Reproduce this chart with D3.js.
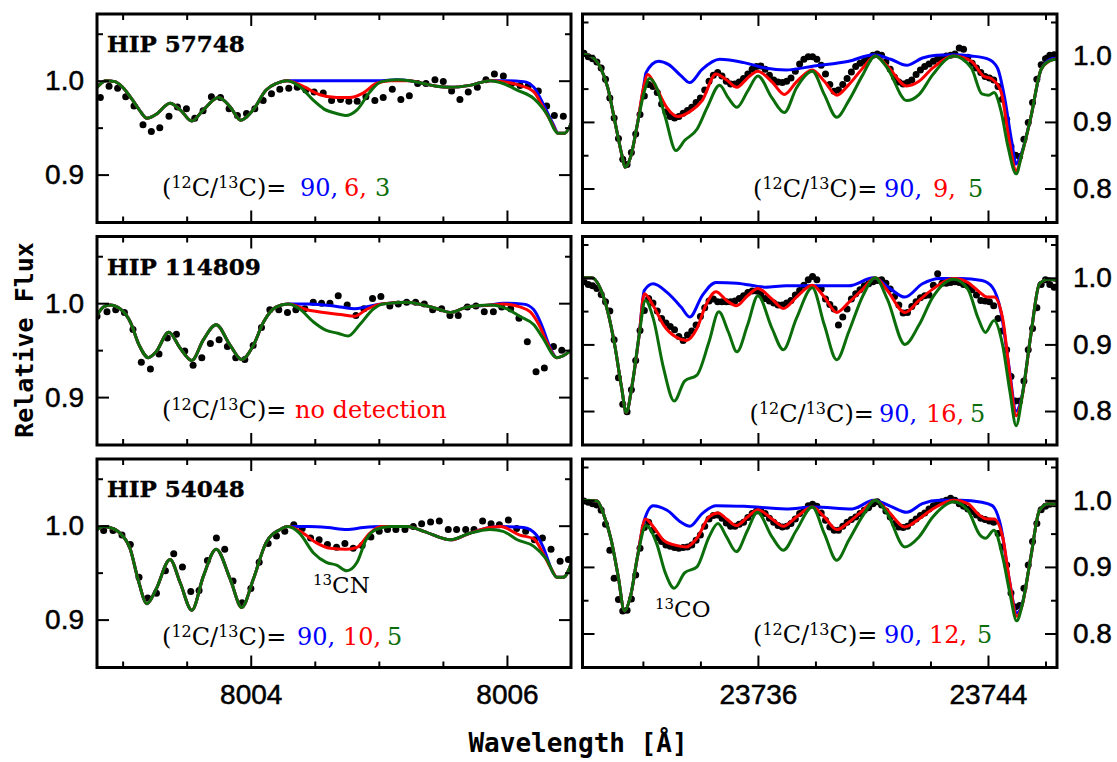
<!DOCTYPE html>
<html>
<head>
<meta charset="utf-8">
<script src="https://cdn.jsdelivr.net/npm/d3@7"></script>
<style>
  body { margin: 0; background: #fff; }
</style>
</head>
<body>
<svg id="chart"></svg>
<script>
// ---------- data ----------
const starNames = ['HIP 57748', 'HIP 114809', 'HIP 54048'];

// tick values
const cnMajorTicks = [8004, 8006];
const cnMinorTicks = [8003, 8003.5, 8004.5, 8005, 8005.5];
const coMajorTicks = [23736, 23744];
const coMinorTicks = [23732, 23734, 23738, 23740, 23742, 23746];
const cnFluxMajor = [0.9, 1.0];
const cnFluxMinor = [0.95, 1.05];
const coFluxMajor = [0.8, 0.9, 1.0];
const coFluxMinor = [0.85, 0.95, 1.05];

// 12C/13C values quoted in each panel (models drawn blue, red, green)
const cnRatios = [['90,', '6,', '3'], ['no detection'], ['90,', '10,', '5']];
const coRatios = [['90,', '9,', '5'], ['90,', '16,', '5'], ['90,', '12,', '5']];

// ---- CN region, 8003-8006 A: observed spectra [wavelength, flux] ----
const cn57748Obs = [[8002.826,0.982],[8002.894,0.994],[8002.961,0.992],[8003.024,0.983],[8003.089,0.973],[8003.159,0.953],[8003.224,0.946],[8003.290,0.950],[8003.362,0.962],[8003.428,0.972],[8003.498,0.970],[8003.563,0.960],[8003.628,0.968],[8003.693,0.983],[8003.764,0.982],[8003.831,0.970],[8003.896,0.963],[8003.967,0.965],[8004.032,0.970],[8004.097,0.979],[8004.162,0.986],[8004.227,0.991],[8004.297,0.992],[8004.363,0.993],[8004.430,0.990],[8004.495,0.988],[8004.566,0.987],[8004.631,0.979],[8004.701,0.980],[8004.766,0.978],[8004.831,0.978],[8004.899,0.983],[8004.969,0.979],[8005.034,0.982],[8005.105,0.991],[8005.172,0.980],[8005.238,0.984],[8005.303,0.997],[8005.368,0.997],[8005.438,1.001],[8005.503,0.999],[8005.568,0.989],[8005.633,0.980],[8005.698,0.988],[8005.769,0.993],[8005.836,1.001],[8005.902,1.007],[8005.972,1.005],[8006.037,0.997],[8006.102,0.995],[8006.167,0.995],[8006.245,0.989],[8006.310,0.973],[8006.370,0.963],[8006.440,0.962]];
const cn114809Obs = [[8002.800,0.986],[8002.878,0.991],[8002.946,0.993],[8003.014,0.990],[8003.081,0.972],[8003.146,0.937],[8003.217,0.930],[8003.284,0.946],[8003.349,0.963],[8003.420,0.967],[8003.485,0.949],[8003.550,0.934],[8003.618,0.942],[8003.685,0.957],[8003.753,0.961],[8003.818,0.954],[8003.883,0.942],[8003.954,0.940],[8004.019,0.955],[8004.084,0.974],[8004.149,0.993],[8004.219,0.993],[8004.287,0.990],[8004.352,0.993],[8004.422,0.994],[8004.488,1.001],[8004.553,1.000],[8004.618,1.000],[8004.683,1.008],[8004.753,0.998],[8004.821,0.987],[8004.883,0.994],[8004.951,1.005],[8005.016,1.007],[8005.086,0.997],[8005.152,0.999],[8005.217,1.001],[8005.287,1.001],[8005.355,0.999],[8005.420,0.993],[8005.490,0.994],[8005.555,0.987],[8005.620,0.987],[8005.691,0.996],[8005.758,0.997],[8005.823,0.991],[8005.894,0.991],[8005.959,0.996],[8006.029,0.994],[8006.094,0.984],[8006.159,0.959],[8006.227,0.927],[8006.292,0.931],[8006.363,0.954],[8006.428,0.950]];
const cn54048Obs = [[8002.852,0.995],[8002.925,0.995],[8002.995,0.990],[8003.060,0.980],[8003.128,0.945],[8003.196,0.923],[8003.264,0.928],[8003.334,0.952],[8003.399,0.970],[8003.467,0.956],[8003.532,0.930],[8003.597,0.931],[8003.662,0.963],[8003.732,0.987],[8003.797,0.975],[8003.862,0.941],[8003.933,0.918],[8004.001,0.933],[8004.066,0.961],[8004.136,0.981],[8004.201,0.989],[8004.266,0.994],[8004.336,1.001],[8004.402,0.997],[8004.467,0.987],[8004.534,0.985],[8004.599,0.980],[8004.670,0.977],[8004.735,0.981],[8004.800,0.976],[8004.870,0.979],[8004.938,0.988],[8005.003,0.994],[8005.068,0.996],[8005.133,0.996],[8005.204,0.996],[8005.269,0.999],[8005.334,1.002],[8005.404,1.004],[8005.472,1.005],[8005.542,0.996],[8005.607,0.996],[8005.678,0.996],[8005.743,0.996],[8005.810,1.005],[8005.876,1.002],[8005.941,1.001],[8006.011,1.006],[8006.076,0.997],[8006.146,0.994],[8006.214,0.985],[8006.277,0.987],[8006.344,0.975],[8006.415,0.962],[8006.480,0.964]];

// ---- CN region: synthetic spectra ----
const cn57748Model3 = [[8002.80,0.993],[8002.87,1.000],[8002.94,0.999],[8003.00,0.993],[8003.08,0.979],[8003.13,0.969],[8003.19,0.960],[8003.26,0.964],[8003.37,0.976],[8003.45,0.969],[8003.54,0.957],[8003.63,0.969],[8003.75,0.982],[8003.84,0.972],[8003.92,0.958],[8004.02,0.969],[8004.12,0.990],[8004.20,0.997],[8004.28,1.000],[8004.38,0.994],[8004.49,0.979],[8004.57,0.970],[8004.67,0.965],[8004.74,0.963],[8004.83,0.969],[8004.93,0.988],[8005.02,0.999],[8005.14,1.001],[8005.24,1.000],[8005.35,0.997],[8005.45,0.994],[8005.56,0.993],[8005.71,0.995],[8005.87,1.000],[8005.97,0.997],[8006.08,0.990],[8006.21,0.981],[8006.31,0.965],[8006.40,0.944],[8006.45,0.944],[8006.50,0.954]];
const cn57748Model6 = [[8002.80,0.993],[8002.87,1.000],[8002.94,0.999],[8003.00,0.993],[8003.08,0.979],[8003.13,0.969],[8003.19,0.960],[8003.26,0.964],[8003.37,0.976],[8003.45,0.969],[8003.54,0.957],[8003.63,0.969],[8003.75,0.982],[8003.84,0.972],[8003.92,0.958],[8004.02,0.969],[8004.12,0.990],[8004.20,0.997],[8004.28,1.000],[8004.41,0.994],[8004.54,0.985],[8004.67,0.982],[8004.77,0.982],[8004.88,0.987],[8004.98,0.997],[8005.09,1.000],[8005.24,1.000],[8005.35,0.997],[8005.45,0.994],[8005.56,0.993],[8005.71,0.995],[8005.87,1.000],[8005.97,0.999],[8006.10,0.995],[8006.21,0.988],[8006.28,0.972],[8006.35,0.955],[8006.40,0.944],[8006.45,0.944],[8006.50,0.954]];
const cn57748Model90 = [[8002.80,0.993],[8002.87,1.000],[8002.94,0.999],[8003.00,0.993],[8003.08,0.979],[8003.13,0.969],[8003.19,0.960],[8003.26,0.964],[8003.37,0.976],[8003.45,0.969],[8003.54,0.957],[8003.63,0.969],[8003.75,0.982],[8003.84,0.972],[8003.92,0.958],[8004.02,0.969],[8004.12,0.990],[8004.20,0.997],[8004.28,1.000],[8004.45,1.000],[8004.65,1.000],[8004.85,1.000],[8005.02,1.000],[8005.14,1.001],[8005.24,1.000],[8005.35,0.997],[8005.45,0.994],[8005.56,0.993],[8005.71,0.995],[8005.87,1.000],[8005.97,1.000],[8006.13,0.999],[8006.21,0.993],[8006.28,0.976],[8006.36,0.954],[8006.40,0.944],[8006.45,0.944],[8006.50,0.954]];

const cn114809Model5 = [[8002.80,0.987],[8002.85,0.996],[8002.90,0.998],[8002.98,0.994],[8003.06,0.980],[8003.13,0.955],[8003.20,0.942],[8003.26,0.948],[8003.36,0.969],[8003.45,0.952],[8003.54,0.939],[8003.63,0.961],[8003.73,0.977],[8003.84,0.955],[8003.93,0.940],[8004.02,0.955],[8004.10,0.980],[8004.20,0.996],[8004.29,0.999],[8004.38,0.994],[8004.49,0.980],[8004.59,0.971],[8004.68,0.968],[8004.76,0.965],[8004.85,0.977],[8004.96,0.994],[8005.03,0.999],[8005.22,1.001],[8005.35,0.998],[8005.48,0.993],[8005.56,0.990],[8005.69,0.996],[8005.87,0.998],[8006.00,0.994],[8006.10,0.986],[8006.21,0.977],[8006.28,0.963],[8006.39,0.942],[8006.44,0.944],[8006.50,0.950]];
const cn114809Model16 = [[8002.80,0.987],[8002.85,0.996],[8002.90,0.998],[8002.98,0.994],[8003.06,0.980],[8003.13,0.955],[8003.20,0.942],[8003.26,0.948],[8003.36,0.969],[8003.45,0.952],[8003.54,0.939],[8003.63,0.961],[8003.73,0.977],[8003.84,0.955],[8003.93,0.940],[8004.02,0.955],[8004.10,0.980],[8004.20,0.996],[8004.29,0.999],[8004.44,0.993],[8004.57,0.990],[8004.70,0.988],[8004.81,0.986],[8004.90,0.993],[8005.01,0.999],[8005.22,1.001],[8005.35,0.998],[8005.48,0.993],[8005.56,0.990],[8005.69,0.996],[8005.87,0.998],[8005.97,0.999],[8006.10,0.996],[8006.18,0.991],[8006.25,0.977],[8006.31,0.959],[8006.39,0.942],[8006.44,0.944],[8006.50,0.950]];
const cn114809Model90 = [[8002.80,0.987],[8002.85,0.996],[8002.90,0.998],[8002.98,0.994],[8003.06,0.980],[8003.13,0.955],[8003.20,0.942],[8003.26,0.948],[8003.36,0.969],[8003.45,0.952],[8003.54,0.939],[8003.63,0.961],[8003.73,0.977],[8003.84,0.955],[8003.93,0.940],[8004.02,0.955],[8004.10,0.980],[8004.20,0.996],[8004.29,0.999],[8004.44,0.999],[8004.57,0.998],[8004.70,0.996],[8004.81,0.994],[8004.90,0.996],[8005.01,0.999],[8005.22,1.001],[8005.35,0.998],[8005.48,0.993],[8005.56,0.990],[8005.69,0.996],[8005.87,0.998],[8005.97,1.000],[8006.13,0.999],[8006.21,0.993],[8006.27,0.977],[8006.33,0.955],[8006.39,0.942],[8006.44,0.944],[8006.50,0.950]];

const cn54048Model5 = [[8002.80,0.996],[8002.85,0.999],[8002.90,0.998],[8002.98,0.992],[8003.06,0.975],[8003.12,0.943],[8003.19,0.917],[8003.26,0.932],[8003.37,0.964],[8003.45,0.939],[8003.54,0.910],[8003.63,0.946],[8003.73,0.975],[8003.84,0.943],[8003.93,0.913],[8004.02,0.943],[8004.12,0.982],[8004.23,0.996],[8004.29,0.999],[8004.38,0.992],[8004.49,0.971],[8004.59,0.961],[8004.67,0.958],[8004.75,0.952],[8004.83,0.961],[8004.90,0.985],[8004.98,0.996],[8005.09,0.999],[8005.22,0.999],[8005.35,0.994],[8005.56,0.985],[8005.71,0.992],[8005.87,0.996],[8005.97,0.994],[8006.08,0.985],[8006.21,0.978],[8006.31,0.964],[8006.39,0.945],[8006.44,0.945],[8006.50,0.959]];
const cn54048Model10 = [[8002.80,0.996],[8002.85,0.999],[8002.90,0.998],[8002.98,0.992],[8003.06,0.975],[8003.12,0.943],[8003.19,0.917],[8003.26,0.932],[8003.37,0.964],[8003.45,0.939],[8003.54,0.910],[8003.63,0.946],[8003.73,0.975],[8003.84,0.943],[8003.93,0.913],[8004.02,0.943],[8004.12,0.982],[8004.23,0.996],[8004.29,0.999],[8004.41,0.992],[8004.51,0.982],[8004.62,0.976],[8004.75,0.975],[8004.83,0.977],[8004.93,0.992],[8005.02,0.999],[8005.09,0.999],[8005.22,0.999],[8005.35,0.994],[8005.56,0.985],[8005.71,0.992],[8005.87,0.998],[8005.95,0.999],[8006.10,0.990],[8006.21,0.986],[8006.28,0.971],[8006.35,0.953],[8006.39,0.945],[8006.44,0.945],[8006.50,0.959]];
const cn54048Model90 = [[8002.80,0.996],[8002.85,0.999],[8002.90,0.998],[8002.98,0.992],[8003.06,0.975],[8003.12,0.943],[8003.19,0.917],[8003.26,0.932],[8003.37,0.964],[8003.45,0.939],[8003.54,0.910],[8003.63,0.946],[8003.73,0.975],[8003.84,0.943],[8003.93,0.913],[8004.02,0.943],[8004.12,0.982],[8004.23,0.996],[8004.29,0.999],[8004.45,0.999],[8004.60,0.998],[8004.75,0.996],[8004.88,0.998],[8005.02,0.999],[8005.09,0.999],[8005.22,0.999],[8005.35,0.994],[8005.56,0.985],[8005.71,0.992],[8005.87,0.998],[8005.95,0.999],[8006.13,0.998],[8006.23,0.990],[8006.28,0.978],[8006.36,0.950],[8006.39,0.945],[8006.44,0.945],[8006.50,0.959]];

// ---- CO region, 23730-23746 A: observed spectra on a common wavelength grid ----
const coWave = [23729.95,23730.10,23730.25,23730.40,23730.55,23730.70,23730.85,23731.00,23731.15,23731.30,
  23731.45,23731.60,23731.75,23731.90,23732.05,23732.20,23732.35,23732.50,23732.65,23732.80,
  23732.95,23733.10,23733.25,23733.40,23733.55,23733.70,23733.85,23734.00,23734.15,23734.30,
  23734.45,23734.60,23734.75,23734.90,23735.05,23735.20,23735.35,23735.50,23735.65,23735.80,
  23735.95,23736.10,23736.25,23736.40,23736.55,23736.70,23736.85,23737.00,23737.15,23737.30,
  23737.45,23737.60,23737.75,23737.90,23738.05,23738.20,23738.35,23738.50,23738.65,23738.80,
  23738.95,23739.10,23739.25,23739.40,23739.55,23739.70,23739.85,23740.00,23740.15,23740.30,
  23740.45,23740.60,23740.75,23740.90,23741.05,23741.20,23741.35,23741.50,23741.65,23741.80,
  23741.95,23742.10,23742.25,23742.40,23742.55,23742.70,23742.85,23743.00,23743.15,23743.30,
  23743.45,23743.60,23743.75,23743.90,23744.05,23744.20,23744.35,23744.50,23744.65,23744.80,
  23744.95,23745.10,23745.25,23745.40,23745.55,23745.70,23745.85,23746.00,23746.15,23746.30];
const co57748Flux = [1.003,0.998,0.995,0.990,0.981,0.964,0.936,0.906,0.875,0.844,
  0.836,0.854,0.882,0.911,0.939,0.956,0.953,0.944,0.927,0.915,
  0.908,0.906,0.908,0.913,0.917,0.922,0.929,0.936,0.948,0.961,
  0.970,0.974,0.969,0.961,0.957,0.957,0.960,0.965,0.972,0.979,
  0.983,0.984,0.979,0.970,0.963,0.960,0.959,0.961,0.966,0.976,
  0.987,0.994,0.998,0.998,0.994,0.985,0.972,0.956,0.946,0.948,
  0.956,0.965,0.975,0.983,0.988,0.991,0.995,1.000,1.002,1.000,
  0.990,0.979,0.967,0.960,0.957,0.959,0.963,0.971,0.978,0.983,
  0.987,0.991,0.995,0.997,0.999,1.000,1.002,1.011,1.009,0.997,
  0.988,0.981,0.974,0.968,0.966,0.963,0.953,0.934,0.904,0.863,
  0.850,0.848,0.874,0.899,0.929,0.964,0.986,0.995,1.000,1.001];
const co114809Flux = [0.994,0.990,0.988,0.984,0.975,0.964,0.950,0.907,0.850,0.810,
  0.799,0.832,0.876,0.921,0.951,0.969,0.962,0.950,0.939,0.932,
  0.927,0.922,0.912,0.906,0.914,0.920,0.929,0.942,0.955,0.965,
  0.968,0.964,0.964,0.964,0.964,0.965,0.969,0.973,0.978,0.980,
  0.980,0.975,0.969,0.965,0.962,0.959,0.959,0.962,0.966,0.974,
  0.981,0.989,0.997,1.002,0.997,0.983,0.968,0.960,0.953,0.929,
  0.941,0.953,0.968,0.976,0.982,0.988,0.991,0.994,0.996,0.997,
  0.992,0.983,0.972,0.959,0.947,0.948,0.957,0.964,0.970,0.973,
  0.974,0.989,1.006,0.992,0.992,0.993,0.994,0.993,0.990,0.988,
  0.982,0.974,0.966,0.965,0.964,0.958,0.939,0.920,0.892,0.852,
  0.815,0.815,0.845,0.892,0.924,0.955,0.990,0.997,0.990,0.986];
const co54048Flux = [0.999,0.997,0.995,0.993,0.985,0.964,0.925,0.883,0.851,0.834,
  0.835,0.852,0.888,0.928,0.959,0.967,0.955,0.944,0.938,0.933,
  0.931,0.929,0.928,0.929,0.930,0.933,0.940,0.948,0.961,0.972,
  0.977,0.978,0.973,0.966,0.961,0.961,0.964,0.967,0.974,0.980,
  0.984,0.984,0.980,0.973,0.967,0.962,0.960,0.961,0.965,0.972,
  0.980,0.986,0.992,0.994,0.991,0.981,0.970,0.960,0.955,0.955,
  0.961,0.967,0.971,0.975,0.980,0.985,0.989,0.995,0.998,0.993,
  0.984,0.975,0.965,0.960,0.959,0.961,0.967,0.972,0.977,0.981,
  0.987,0.992,0.996,0.998,1.000,1.003,1.000,0.995,0.991,0.987,
  0.983,0.978,0.973,0.971,0.969,0.967,0.950,0.930,0.903,0.861,
  0.840,0.842,0.868,0.903,0.938,0.965,0.986,0.991,0.994,0.995];

// ---- CO region: synthetic spectra ----
const co57748Model5 = [[23729.90,1.002],[23730.17,0.999],[23730.53,0.981],[23730.78,0.951],[23731.02,0.902],[23731.26,0.852],[23731.38,0.832],[23731.57,0.847],[23731.81,0.897],[23732.05,0.946],[23732.23,0.965],[23732.48,0.951],[23732.78,0.907],[23733.15,0.857],[23733.45,0.872],[23733.88,0.889],[23734.24,0.922],[23734.67,0.955],[23734.97,0.936],[23735.27,0.922],[23735.64,0.946],[23736.00,0.969],[23736.49,0.936],[23736.92,0.914],[23737.34,0.951],[23737.89,0.976],[23738.31,0.941],[23738.74,0.907],[23739.16,0.932],[23739.65,0.971],[23740.08,0.999],[23740.50,0.981],[23741.17,0.932],[23741.60,0.941],[23742.08,0.971],[23742.81,0.999],[23743.42,0.981],[23743.79,0.942],[23744.03,0.940],[23744.21,0.944],[23744.45,0.917],[23744.70,0.862],[23744.98,0.822],[23745.18,0.852],[23745.49,0.907],[23745.85,0.979],[23746.16,0.992],[23746.40,0.994]];
const co57748Model9 = [[23729.90,1.002],[23730.17,0.999],[23730.53,0.981],[23730.78,0.951],[23731.02,0.902],[23731.26,0.852],[23731.38,0.832],[23731.57,0.847],[23731.81,0.897],[23732.02,0.951],[23732.17,0.971],[23732.48,0.950],[23732.84,0.921],[23733.21,0.908],[23733.69,0.917],[23734.06,0.932],[23734.54,0.972],[23734.91,0.963],[23735.27,0.952],[23735.64,0.966],[23736.00,0.976],[23736.49,0.960],[23736.92,0.941],[23737.34,0.960],[23737.89,0.978],[23738.31,0.961],[23738.74,0.940],[23739.16,0.956],[23739.65,0.981],[23740.08,0.999],[23740.50,0.984],[23741.17,0.954],[23741.60,0.961],[23742.08,0.981],[23742.81,0.999],[23743.42,0.991],[23743.84,0.969],[23744.15,0.964],[23744.45,0.946],[23744.74,0.872],[23744.98,0.827],[23745.18,0.852],[23745.49,0.907],[23745.85,0.979],[23746.16,0.992],[23746.40,0.995]];
const co57748Model90 = [[23729.90,1.002],[23730.17,0.999],[23730.53,0.981],[23730.78,0.951],[23731.02,0.902],[23731.26,0.852],[23731.38,0.832],[23731.57,0.847],[23731.81,0.897],[23732.02,0.951],[23732.11,0.974],[23732.54,0.991],[23732.90,0.986],[23733.33,0.969],[23733.63,0.959],[23734.06,0.979],[23734.67,0.994],[23735.52,0.989],[23736.25,0.981],[23736.98,0.978],[23737.95,0.984],[23739.16,0.991],[23740.02,1.001],[23740.62,0.994],[23741.17,0.985],[23741.72,0.996],[23742.20,1.000],[23742.81,1.001],[23743.42,0.999],[23744.03,0.994],[23744.33,0.981],[23744.58,0.936],[23744.82,0.872],[23744.98,0.837],[23745.18,0.855],[23745.49,0.907],[23745.85,0.979],[23746.16,0.994],[23746.40,0.997]];

const co114809Model5 = [[23729.90,1.000],[23730.23,1.000],[23730.53,0.983],[23730.78,0.949],[23731.02,0.899],[23731.26,0.835],[23731.42,0.798],[23731.63,0.840],[23731.87,0.914],[23732.09,0.966],[23732.36,0.939],[23732.72,0.864],[23733.09,0.815],[23733.45,0.845],[23733.88,0.854],[23734.30,0.904],[23734.64,0.949],[23734.97,0.919],[23735.27,0.889],[23735.64,0.929],[23736.00,0.973],[23736.49,0.924],[23736.88,0.892],[23737.34,0.939],[23737.89,0.985],[23738.31,0.929],[23738.74,0.877],[23739.16,0.919],[23739.65,0.973],[23740.08,1.000],[23740.50,0.968],[23741.11,0.900],[23741.60,0.929],[23742.08,0.971],[23742.81,0.998],[23743.30,0.983],[23743.66,0.939],[23743.91,0.918],[23744.21,0.936],[23744.51,0.899],[23744.76,0.830],[23744.98,0.778],[23745.18,0.820],[23745.49,0.914],[23745.79,0.991],[23746.10,0.998],[23746.40,0.996]];
const co114809Model16 = [[23729.90,1.000],[23730.23,1.000],[23730.53,0.983],[23730.78,0.949],[23731.02,0.899],[23731.26,0.835],[23731.42,0.798],[23731.63,0.840],[23731.87,0.914],[23732.05,0.976],[23732.36,0.958],[23732.72,0.929],[23733.15,0.911],[23733.51,0.906],[23733.88,0.924],[23734.18,0.958],[23734.54,0.979],[23734.91,0.966],[23735.25,0.958],[23735.64,0.973],[23736.00,0.984],[23736.49,0.968],[23736.88,0.954],[23737.34,0.971],[23737.89,0.989],[23738.31,0.971],[23738.74,0.948],[23739.16,0.963],[23739.65,0.983],[23740.08,1.000],[23740.50,0.981],[23741.11,0.948],[23741.60,0.966],[23742.08,0.983],[23742.81,0.999],[23743.30,0.993],[23743.72,0.978],[23743.97,0.971],[23744.21,0.971],[23744.51,0.939],[23744.76,0.854],[23744.98,0.793],[23745.18,0.820],[23745.49,0.914],[23745.79,0.991],[23746.10,0.998],[23746.40,0.996]];
const co114809Model90 = [[23729.90,1.000],[23730.23,1.000],[23730.53,0.983],[23730.78,0.949],[23731.02,0.899],[23731.26,0.835],[23731.42,0.798],[23731.63,0.840],[23731.87,0.914],[23732.05,0.981],[23732.36,0.991],[23732.84,0.978],[23733.33,0.956],[23733.63,0.941],[23734.06,0.973],[23734.54,0.993],[23735.27,0.992],[23736.25,0.986],[23736.98,0.988],[23737.95,0.988],[23739.16,0.988],[23740.02,1.000],[23740.62,0.983],[23741.11,0.971],[23741.72,0.991],[23742.32,0.999],[23743.05,0.999],[23743.79,0.996],[23744.15,0.986],[23744.45,0.949],[23744.74,0.864],[23744.98,0.800],[23745.18,0.822],[23745.49,0.914],[23745.79,0.991],[23746.10,0.998],[23746.40,0.996]];

const co54048Model5 = [[23729.90,1.000],[23730.41,0.999],[23730.65,0.977],[23730.90,0.940],[23731.14,0.886],[23731.36,0.834],[23731.57,0.856],[23731.81,0.915],[23732.11,0.962],[23732.48,0.935],[23732.78,0.891],[23733.09,0.868],[23733.45,0.891],[23733.88,0.900],[23734.30,0.945],[23734.61,0.965],[23734.91,0.945],[23735.25,0.923],[23735.64,0.955],[23735.98,0.982],[23736.49,0.945],[23736.88,0.925],[23737.34,0.955],[23737.89,0.990],[23738.31,0.950],[23738.74,0.910],[23739.16,0.940],[23739.65,0.977],[23740.08,1.000],[23740.50,0.980],[23741.11,0.930],[23741.60,0.945],[23742.08,0.975],[23742.81,0.998],[23743.30,0.985],[23743.72,0.948],[23743.91,0.943],[23744.21,0.955],[23744.51,0.915],[23744.76,0.861],[23745.00,0.819],[23745.18,0.841],[23745.49,0.915],[23745.79,0.985],[23746.10,0.995],[23746.40,0.994]];
const co54048Model12 = [[23729.90,1.000],[23730.41,0.999],[23730.65,0.977],[23730.90,0.940],[23731.14,0.886],[23731.36,0.834],[23731.57,0.856],[23731.81,0.915],[23732.09,0.972],[23732.42,0.957],[23732.72,0.940],[23733.09,0.933],[23733.51,0.930],[23733.88,0.943],[23734.30,0.975],[23734.61,0.981],[23734.91,0.972],[23735.25,0.962],[23735.64,0.975],[23736.00,0.986],[23736.49,0.972],[23736.88,0.961],[23737.34,0.975],[23737.89,0.990],[23738.31,0.975],[23738.74,0.956],[23739.16,0.967],[23739.65,0.985],[23740.08,1.000],[23740.50,0.985],[23741.11,0.960],[23741.60,0.972],[23742.08,0.987],[23742.81,1.000],[23743.30,0.995],[23743.72,0.977],[23743.97,0.972],[23744.21,0.972],[23744.51,0.945],[23744.76,0.876],[23745.00,0.826],[23745.18,0.841],[23745.49,0.915],[23745.79,0.985],[23746.10,0.995],[23746.40,0.994]];
const co54048Model90 = [[23729.90,1.000],[23730.41,0.999],[23730.65,0.977],[23730.90,0.940],[23731.14,0.886],[23731.36,0.834],[23731.57,0.856],[23731.81,0.915],[23732.05,0.970],[23732.36,0.992],[23732.84,0.985],[23733.33,0.967],[23733.63,0.961],[23734.06,0.980],[23734.54,0.992],[23735.52,0.991],[23736.98,0.987],[23737.95,0.990],[23739.28,0.987],[23740.02,1.000],[23740.62,0.991],[23741.17,0.982],[23741.72,0.995],[23742.32,1.000],[23743.05,1.000],[23743.79,0.997],[23744.15,0.992],[23744.45,0.960],[23744.74,0.881],[23745.00,0.831],[23745.18,0.843],[23745.49,0.915],[23745.79,0.985],[23746.10,0.995],[23746.40,0.994]];

// ---------- layout ----------
const W = 1117, H = 762;
const colX = [[97, 571], [582.5, 1057]];
const rowTop = [14, 236.5, 459];
const rowH = 208.5;
const cnDomain = [8002.8, 8006.5], coDomain = [23729.9, 23746.4];
const cnFluxDomain = [0.849, 1.071], coFluxDomain = [0.749, 1.062];
const modelColors = ['#0000ff', '#ff0000', '#0b6e0b'];

// where the coloured ratio values sit (x) and the text baseline (relative to panel top)
const cnLabelPos = [{x0: 162, xs: [300, 344, 375], dy: 182},
                    {x0: 162, xs: [295], dy: 181.5},
                    {x0: 162, xs: [297, 343, 387], dy: 186}];
const coLabelPos = [{x0: 753, xs: [884, 933, 968], dy: 183},
                    {x0: 749.5, xs: [879, 926, 970], dy: 185},
                    {x0: 753, xs: [884, 929, 977], dy: 184}];

const cnObs = [cn57748Obs, cn114809Obs, cn54048Obs];
const cnModels = [[cn57748Model90, cn57748Model6, cn57748Model3],
                  [cn114809Model90, cn114809Model16, cn114809Model5],
                  [cn54048Model90, cn54048Model10, cn54048Model5]];
const coFlux = [co57748Flux, co114809Flux, co54048Flux];
const coModels = [[co57748Model90, co57748Model9, co57748Model5],
                  [co114809Model90, co114809Model16, co114809Model5],
                  [co54048Model90, co54048Model12, co54048Model5]];

const svg = d3.select('#chart').attr('width', W).attr('height', H);
svg.append('rect').attr('width', W).attr('height', H).attr('fill', '#fff');
const defs = svg.append('defs');

const tickFont = 'Liberation Sans, Arial, sans-serif';
const serif = 'DejaVu Serif, serif';

function addAxis(g, axisFn, scale, values, size, transform, fmt, pad) {
  const ax = axisFn(scale).tickValues(values).tickSize(-size)
    .tickPadding(pad || 0).tickFormat(fmt || (() => ''));
  const sel = g.append('g').attr('transform', transform).call(ax);
  sel.select('.domain').remove();
  sel.selectAll('line').attr('stroke', '#000').attr('stroke-width', 2);
  sel.attr('font-family', tickFont).attr('font-size', 28);
  sel.selectAll('text').attr('fill', '#000').attr('stroke', '#000').attr('stroke-width', 0.5);
  return sel;
}

function drawPanel(p) {
  const [x0, x1] = colX[p.col];
  const top = rowTop[p.row], bottom = top + rowH;
  const x = d3.scaleLinear().domain(p.xDomain).range([x0, x1]);
  const y = d3.scaleLinear().domain(p.yDomain).range([bottom, top]);
  const g = svg.append('g');

  const clipId = 'clip-' + p.row + '-' + p.col;
  defs.append('clipPath').attr('id', clipId).append('rect')
    .attr('x', x0).attr('y', top).attr('width', x1 - x0).attr('height', rowH);
  const plot = g.append('g').attr('clip-path', 'url(#' + clipId + ')');

  plot.selectAll('circle').data(p.obs).join('circle')
    .attr('cx', d => x(d[0])).attr('cy', d => y(d[1])).attr('r', 3.5).attr('fill', '#000');

  const line = d3.line().x(d => x(d[0])).y(d => y(d[1])).curve(d3.curveMonotoneX);
  p.models.forEach((m, i) => {
    plot.append('path').datum(m).attr('d', line).attr('fill', 'none')
      .attr('stroke', modelColors[i]).attr('stroke-width', 3)
      .attr('stroke-linejoin', 'round').attr('stroke-linecap', 'round');
  });

  // ticks on all four sides, pointing inward
  const fmtX = d3.format('d'), fmtY = d3.format('.1f');
  const lastRow = p.row === 2;
  addAxis(g, d3.axisBottom, x, p.xMinor, 6, 'translate(0,' + bottom + ')');
  addAxis(g, d3.axisBottom, x, p.xMajor, 12, 'translate(0,' + bottom + ')', lastRow ? fmtX : null, 17);
  addAxis(g, d3.axisTop, x, p.xMinor, 6, 'translate(0,' + top + ')');
  addAxis(g, d3.axisTop, x, p.xMajor, 12, 'translate(0,' + top + ')');
  addAxis(g, d3.axisLeft, y, p.yMinor, 6, 'translate(' + x0 + ',0)');
  addAxis(g, d3.axisLeft, y, p.yMajor, 12, 'translate(' + x0 + ',0)', p.col === 0 ? fmtY : null, 13);
  addAxis(g, d3.axisRight, y, p.yMinor, 6, 'translate(' + x1 + ',0)');
  addAxis(g, d3.axisRight, y, p.yMajor, 12, 'translate(' + x1 + ',0)', p.col === 1 ? fmtY : null, 16);

  g.append('rect').attr('x', x0).attr('y', top).attr('width', x1 - x0).attr('height', rowH)
    .attr('fill', 'none').attr('stroke', '#000').attr('stroke-width', 3);

  if (p.col === 0) {
    g.append('text').attr('x', x0 + 10).attr('y', top + 38)
      .attr('font-family', serif).attr('font-weight', 'bold').attr('font-size', 23)
      .attr('fill', '#000').attr('stroke', '#000').attr('stroke-width', 0.4)
      .text(starNames[p.row]);
  }

  // (12C/13C)= ratio annotation
  const pos = p.labelPos;
  const t = g.append('text').attr('x', pos.x0).attr('y', top + pos.dy)
    .attr('font-family', serif).attr('font-size', 24).attr('fill', '#000');
  t.append('tspan').text('(');
  t.append('tspan').attr('dy', -8).attr('font-size', 16).text('12');
  t.append('tspan').attr('dy', 8).text('C/');
  t.append('tspan').attr('dy', -8).attr('font-size', 16).text('13');
  t.append('tspan').attr('dy', 8).text('C)=');
  p.ratios.forEach((v, i) => {
    const colour = p.ratios.length === 1 ? modelColors[1] : modelColors[i];
    t.append('tspan').attr('x', pos.xs[i]).attr('fill', colour).text(v);
  });
}

for (let r = 0; r < 3; r++) {
  drawPanel({row: r, col: 0, xDomain: cnDomain, yDomain: cnFluxDomain,
    xMajor: cnMajorTicks, xMinor: cnMinorTicks, yMajor: cnFluxMajor, yMinor: cnFluxMinor,
    obs: cnObs[r], models: cnModels[r], ratios: cnRatios[r], labelPos: cnLabelPos[r]});
  drawPanel({row: r, col: 1, xDomain: coDomain, yDomain: coFluxDomain,
    xMajor: coMajorTicks, xMinor: coMinorTicks, yMajor: coFluxMajor, yMinor: coFluxMinor,
    obs: coWave.map((w, i) => [w, coFlux[r][i]]), models: coModels[r],
    ratios: coRatios[r], labelPos: coLabelPos[r]});
}

// isotope feature labels in the bottom row
function isoLabel(xp, yp, sup, rest) {
  const t = svg.append('text').attr('x', xp).attr('y', yp)
    .attr('font-family', serif).attr('font-size', 23).attr('fill', '#000');
  t.append('tspan').attr('dy', -8).attr('font-size', 15).text(sup);
  t.append('tspan').attr('dy', 8).text(rest);
}
isoLabel(313, 593, '13', 'CN');
isoLabel(655, 617, '13', 'CO');

// axis titles
const mono = 'DejaVu Sans Mono, monospace';
svg.append('text').attr('transform', 'translate(33,340) rotate(-90)')
  .attr('text-anchor', 'middle').attr('font-family', mono).attr('font-weight', 'bold')
  .attr('font-size', 25).attr('fill', '#000').text('Relative Flux');
svg.append('text').attr('x', 578).attr('y', 752)
  .attr('text-anchor', 'middle').attr('font-family', mono).attr('font-weight', 'bold')
  .attr('font-size', 26).attr('fill', '#000').text('Wavelength [Å]');
</script>
</body>
</html>
